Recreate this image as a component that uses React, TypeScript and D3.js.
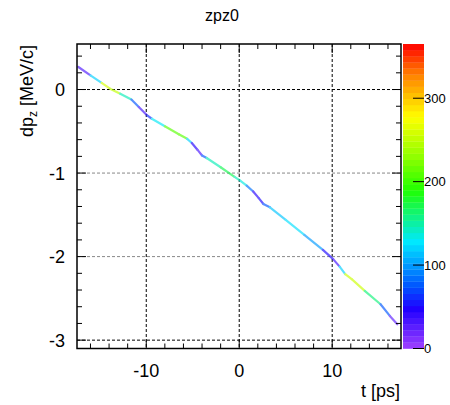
import React from "react";
import * as d3 from "d3";

const tValues = [-17.3, -16.0, -14.8, -13.9, -12.8, -11.6, -10.8, -9.9, -9.4, -8.0, -6.5, -5.6, -5.1, -4.5, -4.0, -3.5, -2.0, -0.5, 0.1, 0.8, 1.5, 2.1, 2.6, 3.3, 5.0, 7.0, 9.0, 10.1, 10.8, 11.4, 12.1, 13.5, 15.2, 16.2, 17.0];
const dpValues = [0.27, 0.17, 0.08, 0.01, -0.05, -0.12, -0.21, -0.31, -0.35, -0.44, -0.535, -0.59, -0.64, -0.72, -0.79, -0.82, -0.93, -1.045, -1.09, -1.15, -1.22, -1.30, -1.37, -1.41, -1.56, -1.74, -1.92, -2.03, -2.12, -2.21, -2.27, -2.41, -2.57, -2.71, -2.81];
const zValues = [20, 40, 200, 320, 180, 110, 40, 30, 90, 170, 250, 170, 70, 25, 40, 110, 180, 160, 130, 140, 30, 60, 40, 110, 120, 130, 70, 30, 40, 200, 310, 200, 120, 30, 20];

const xTicks = [-10, 0, 10];
const yTicks = [0, -1, -2, -3];
const zTicks = [0, 100, 200, 300];
const xDomain = [-17.45, 17.4];
const yDomain = [-3.1, 0.545];
const zDomain = [0, 365];
const paletteStops = [0, 0.13, 0.2, 0.35, 0.52, 0.63, 0.76, 0.9, 1];
const paletteColors = ["#a040ff", "#2000ff", "#0050ff", "#00e8ff", "#20ff00", "#90ff00", "#ffff00", "#ff8000", "#ff0000"];

export default function App() {
  const W = 450, H = 405;
  const L = 77, R = 401, T = 44, B = 348.5;
  const cbL = 403, cbR = 424;
  const x = d3.scaleLinear().domain(xDomain).range([L, R]);
  const y = d3.scaleLinear().domain(yDomain).range([B, T]);
  const z = d3.scaleLinear().domain(zDomain).range([B, T]);
  const pal = d3.scaleLinear<string>().domain(paletteStops).range(paletteColors).interpolate(d3.interpolateRgb);
  const col = (v: number) => pal(v / zDomain[1]);

  const font = "'Liberation Sans', Arial, sans-serif";

  const xMinor = d3.range(-16, 17.5, 2);
  const yMinor = d3.range(-3, 0.55, 0.2).map((v) => Math.round(v * 10) / 10);

  const nBins = 50;
  const bins = d3.range(nBins).map((i) => (i * zDomain[1]) / nBins);

  const segs = tValues.slice(0, -1).map((t, i) => ({
    x1: x(t), y1: y(dpValues[i]), x2: x(tValues[i + 1]), y2: y(dpValues[i + 1]),
    c: col((zValues[i] + zValues[i + 1]) / 2),
  }));

  return (
    <svg width={W} height={H} style={{ position: "absolute", left: 0, top: 0, background: "#fff" }}>
      <rect width={W} height={H} fill="#fff" />
      <text x={222} y={21} fontSize={16} fontFamily={font} textAnchor="middle" fill="#000">zpz0</text>
      {/* grid */}
      {xTicks.map((v) => (
        <line key={"gx" + v} x1={x(v)} x2={x(v)} y1={T} y2={B} stroke="#000" strokeWidth={1} strokeDasharray="3,2" />
      ))}
      {yTicks.map((v) => (
        <line key={"gy" + v} x1={L} x2={R} y1={y(v)} y2={y(v)} stroke={v === 0 || v === -3 ? "#000" : "#888"} strokeWidth={1} strokeDasharray="3,2" />
      ))}
      {/* line */}
      <g strokeLinecap="round" opacity={0.65}>
        {segs.map((s, i) => (
          <line key={i} x1={s.x1} y1={s.y1} x2={s.x2} y2={s.y2} stroke={s.c} strokeWidth={2.2} />
        ))}
      </g>
      {/* frame */}
      <rect x={L} y={T} width={R - L} height={B - T} fill="none" stroke="#000" strokeWidth={1.5} />
      {/* x ticks */}
      {xMinor.map((v) => {
        const major = xTicks.includes(v);
        const len = major ? 9 : 5;
        return (
          <g key={"xt" + v}>
            <line x1={x(v)} x2={x(v)} y1={B} y2={B - len} stroke="#000" />
            <line x1={x(v)} x2={x(v)} y1={T} y2={T + len} stroke="#000" />
          </g>
        );
      })}
      {yMinor.map((v) => {
        const major = yTicks.includes(v);
        const len = major ? 9 : 5;
        return (
          <g key={"yt" + v}>
            <line x1={L} x2={L + len} y1={y(v)} y2={y(v)} stroke="#000" />
            <line x1={R} x2={R - len} y1={y(v)} y2={y(v)} stroke="#000" />
          </g>
        );
      })}
      {xTicks.map((v) => (
        <text key={"xl" + v} x={x(v)} y={377} fontSize={18} fontFamily={font} textAnchor="middle" fill="#000">{v}</text>
      ))}
      {yTicks.map((v) => (
        <text key={"yl" + v} x={65} y={y(v) + 6.5} fontSize={18} fontFamily={font} textAnchor="end" fill="#000">{v}</text>
      ))}
      <text x={400} y={397} fontSize={18} fontFamily={font} textAnchor="end" fill="#000">t [ps]</text>
      <text transform={`translate(33,45) rotate(-90)`} fontSize={18} fontFamily={font} textAnchor="end" fill="#000">
        dp<tspan fontSize={12} dy={4}>z</tspan><tspan dy={-4}> [MeV/c]</tspan>
      </text>
      {/* color bar */}
      {bins.map((b, i) => (
        <rect key={"cb" + i} x={cbL} width={cbR - cbL} y={z(b + zDomain[1] / nBins)} height={z(b) - z(b + zDomain[1] / nBins) + 0.3} fill={col(b + zDomain[1] / nBins / 2)} />
      ))}
      {zTicks.map((v) => (
        <g key={"zt" + v}>
          <line x1={cbR - 11} x2={cbR} y1={z(v)} y2={z(v)} stroke="#000" />
          <text x={cbR} y={z(v) + 4.5} fontSize={13} fontFamily={font} fill="#000">{v}</text>
        </g>
      ))}
    </svg>
  );
}
